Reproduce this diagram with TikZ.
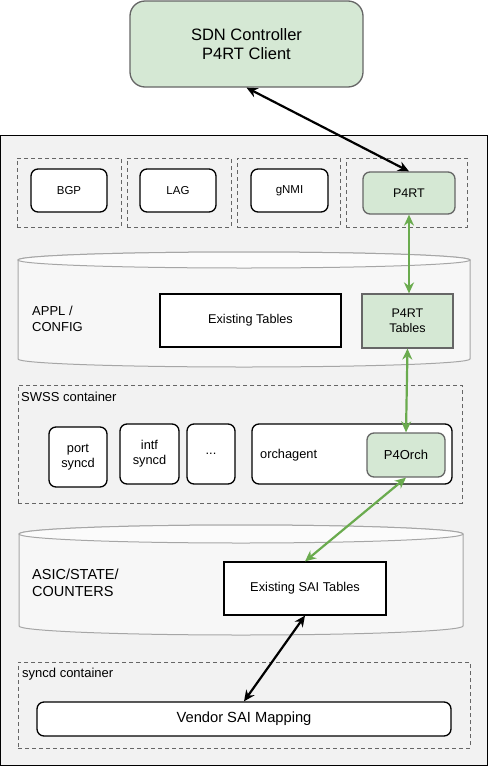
\documentclass[tikz,border=0pt]{standalone}
\usepackage{fontspec}
\setmainfont{Liberation Sans}
\usepackage{tikz}
\usetikzlibrary{shapes,arrows.meta}
\definecolor{panel}{HTML}{F2F2F2}
\definecolor{p4green}{HTML}{D5E8D4}
\definecolor{boxgray}{HTML}{666666}
\definecolor{dashgray}{HTML}{666666}
\definecolor{dbgray}{HTML}{A6A6A6}
\definecolor{arrowgreen}{HTML}{6AAB4E}
\tikzstyle{frame} = [rectangle, draw=black, fill=panel, line width=1pt]
\tikzstyle{group} = [rectangle, draw=dashgray, dash pattern=on 4pt off 3pt, line width=1pt]
\tikzstyle{block} = [rectangle, draw, fill=white, rounded corners=7pt,
    line width=1.3pt, align=center, inner sep=0pt]
\tikzstyle{greenblock} = [block, draw=boxgray, fill=p4green]
\tikzstyle{table} = [rectangle, draw, fill=white, line width=1.2pt,
    align=center, inner sep=0pt]
\tikzstyle{greentable} = [table, draw=boxgray, fill=p4green]
\tikzstyle{label} = [anchor=west, align=left, inner sep=0pt]
\tikzstyle{db} = [draw=dbgray, fill=panel!60!white, line width=1pt]
\tikzstyle{line} = [draw, {Stealth[length=11pt,width=10pt]}-{Stealth[length=11pt,width=10pt]}, line width=2.2pt]
\tikzstyle{gline} = [line, draw=arrowgreen, color=arrowgreen]

\begin{document}
\begin{tikzpicture}[x=1pt, y=1pt]
 \useasboundingbox (0,0) rectangle (489,-766);
 % controller and switch
 \node[greenblock, rounded corners=15pt, minimum width=233pt, minimum height=86pt,
   font=\fontsize{16.5}{19}\selectfont] (ctrl) at (246.5,-44) {SDN Controller\\P4RT Client};
 \node[frame, minimum width=487pt, minimum height=630pt] (switch) at (243.5,-450) {};

 % application containers
 \node[group, minimum width=104pt, minimum height=69pt] (bgpcon) at (69,-192.5) {};
 \node[group, minimum width=104pt, minimum height=69pt] (lagcon) at (179,-192.5) {};
 \node[group, minimum width=103pt, minimum height=69pt] (gnmicon) at (288.5,-192.5) {};
 \node[group, minimum width=121pt, minimum height=69pt] (p4rtcon) at (406.5,-192.5) {};
 \node[block, minimum width=76pt, minimum height=43pt, font=\fontsize{11.5}{14}\selectfont] (bgp) at (69,-190.5) {BGP};
 \node[block, minimum width=76pt, minimum height=43pt, font=\fontsize{11.5}{14}\selectfont] (lag) at (178,-190.5) {LAG};
 \node[block, minimum width=77pt, minimum height=43pt, font=\fontsize{11.5}{14}\selectfont] (gnmi) at (289.5,-190.5) {gNMI};
 \node[greenblock, minimum width=92pt, minimum height=42pt, font=\fontsize{12.5}{15}\selectfont] (p4rt) at (409,-193) {P4RT};

 % APPL / CONFIG database
 \path[db] (18,-260) -- (18,-359) arc[start angle=180, end angle=360, x radius=226, y radius=8]
   -- (470,-260) arc[start angle=0, end angle=180, x radius=226, y radius=8] -- cycle;
 \path[db, fill=white!70!panel] (244,-260) ellipse [x radius=226, y radius=8];
 \node[label, font=\fontsize{13}{16}\selectfont] (appl) at (32,-319) {APPL /\\CONFIG};
 \node[table, minimum width=181pt, minimum height=53pt, font=\fontsize{12.7}{15}\selectfont] (existtab) at (250.5,-320.5) {Existing Tables};
 \node[greentable, minimum width=91pt, minimum height=54pt, font=\fontsize{12.5}{15}\selectfont] (p4rttab) at (407.5,-321) {P4RT\\Tables};

 % SWSS container
 \node[group, minimum width=444pt, minimum height=118pt] (swss) at (240,-444) {};
 \node[label, font=\fontsize{13}{15}\selectfont] (swsslbl) at (21,-397) {SWSS container};
 \node[block, minimum width=58pt, minimum height=60pt, font=\fontsize{12.8}{15}\selectfont] (portsync) at (78,-457) {port\\syncd};
 \node[block, minimum width=59pt, minimum height=60pt, font=\fontsize{12.8}{15}\selectfont] (intfsync) at (149.5,-454) {intf\\syncd};
 \node[block, minimum width=48pt, minimum height=60pt, font=\fontsize{12.8}{15}\selectfont] (more) at (211,-454) {...};
 \node[block, minimum width=200pt, minimum height=60pt] (orch) at (352,-454) {};
 \node[label, font=\fontsize{12.8}{15}\selectfont] (orchlbl) at (260,-455) {orchagent};
 \node[greenblock, minimum width=78pt, minimum height=44pt, font=\fontsize{13}{15}\selectfont] (p4orch) at (406,-455) {P4Orch};

 % ASIC/STATE/COUNTERS database
 \path[db] (19,-534) -- (19,-626) arc[start angle=180, end angle=360, x radius=222, y radius=9]
   -- (463,-534) arc[start angle=0, end angle=180, x radius=222, y radius=9] -- cycle;
 \path[db, fill=white!70!panel] (241,-534) ellipse [x radius=222, y radius=9];
 \node[label, font=\fontsize{14.5}{17}\selectfont] (asic) at (32,-583) {ASIC/STATE/\\COUNTERS};
 \node[table, minimum width=162pt, minimum height=53pt, font=\fontsize{12.8}{15}\selectfont] (existsai) at (305,-588.5) {Existing SAI Tables};

 % syncd container
 \node[group, minimum width=452pt, minimum height=86pt] (syncdcon) at (244,-705) {};
 \node[label, font=\fontsize{13}{15}\selectfont] (syncdlbl) at (22,-674) {syncd container};
 \node[block, minimum width=414pt, minimum height=34pt, font=\fontsize{14.7}{17}\selectfont] (vendor) at (244,-719) {Vendor SAI Mapping};

 \path[line] (ctrl.south) -- (p4rt.north);
 \path[gline] (p4rt.south) -- (p4rt.south |- p4rttab.north);
 \path[gline] (p4rttab.south) -- (p4orch.north);
 \path[gline] (p4orch.south) -- (existsai.north);
 \path[line] (existsai.south) -- (vendor.north);
\end{tikzpicture}
\end{document}
